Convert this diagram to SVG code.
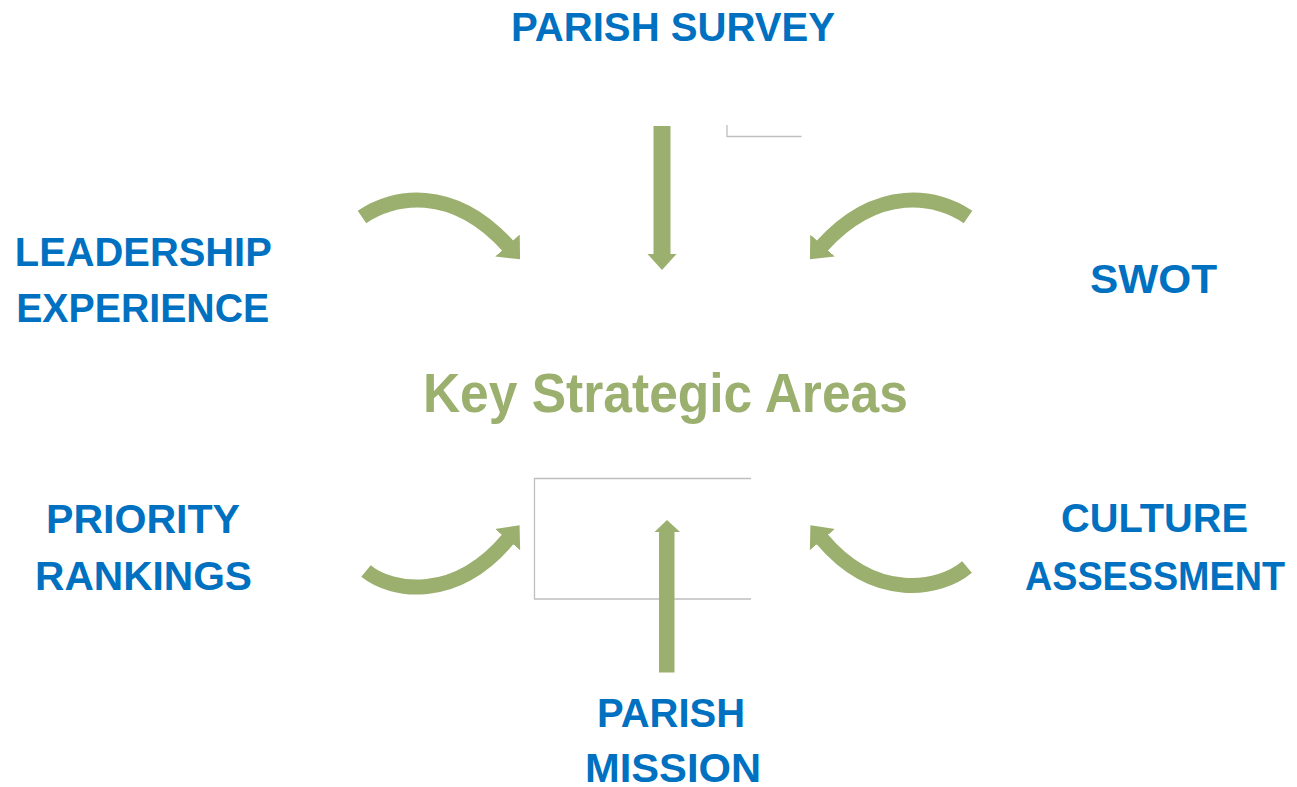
<svg xmlns="http://www.w3.org/2000/svg" width="1297" height="787" viewBox="0 0 1297 787">
<style>
.lbl{font-family:"Liberation Sans",Arial,sans-serif;font-weight:bold;font-size:40px;fill:#0070C0;text-anchor:middle}
.key{font-family:"Liberation Sans",Arial,sans-serif;font-weight:bold;font-size:55px;fill:#9BB06F;text-anchor:middle}
.frame{fill:none;stroke:#BFBFBF;stroke-width:1.3}
.curve{fill:none;stroke:#9BB06F;stroke-width:15;stroke-linecap:butt}
.straight{fill:#9BB06F;stroke:none}
</style>
<defs>
<marker id="head" viewBox="0 -1.15 1.3 2.3" refX="0.05" refY="0" markerWidth="1.3" markerHeight="2.3" markerUnits="strokeWidth" orient="auto">
<path d="M0,-1.1 L1.25,0 L0,1.1 Z" fill="#9BB06F"/>
</marker>
</defs>
<rect width="1297" height="787" fill="#FFFFFF"/>
<g id="frames">
<path class="frame" d="M727,125 V136.5 H801.5"/>
<path class="frame" d="M751,478.5 H534.5 V599 H751"/>
</g>
<g id="connectors">
<path class="curve" d="M362,217 C392,196 452,184 508,246" marker-end="url(#head)"/>
<path class="curve" d="M968,217 C938,196 878,184 822,246" marker-end="url(#head)"/>
<path class="curve" d="M366,571 C392,592 455,602 508,539" marker-end="url(#head)"/>
<path class="curve" d="M967,567 C940,590 875,602 822,539" marker-end="url(#head)"/>
<path class="straight" d="M653.5,126 H670.5 V254 H676.5 L662,270 L647.5,254 H653.5 Z"/>
<path class="straight" d="M659,672.5 V532 H654.5 L667,520 L680,532 H674.5 V672.5 Z"/>
</g>
<g id="node-center">
<text class="key" x="665.4" y="411.5" textLength="485" lengthAdjust="spacingAndGlyphs">Key Strategic Areas</text>
</g>
<g id="node-parish-survey">
<text class="lbl" x="673" y="41" textLength="324" lengthAdjust="spacingAndGlyphs">PARISH SURVEY</text>
</g>
<g id="node-leadership">
<text class="lbl" x="143.3" y="266" textLength="257" lengthAdjust="spacingAndGlyphs">LEADERSHIP</text>
<text class="lbl" x="142.7" y="322" textLength="253" lengthAdjust="spacingAndGlyphs">EXPERIENCE</text>
</g>
<g id="node-swot">
<text class="lbl" x="1153.5" y="293" textLength="127" lengthAdjust="spacingAndGlyphs">SWOT</text>
</g>
<g id="node-priority">
<text class="lbl" x="143" y="532.5" textLength="194" lengthAdjust="spacingAndGlyphs">PRIORITY</text>
<text class="lbl" x="143.5" y="589.5" textLength="217" lengthAdjust="spacingAndGlyphs">RANKINGS</text>
</g>
<g id="node-culture">
<text class="lbl" x="1154.5" y="532" textLength="187" lengthAdjust="spacingAndGlyphs">CULTURE</text>
<text class="lbl" x="1155" y="590" textLength="260" lengthAdjust="spacingAndGlyphs">ASSESSMENT</text>
</g>
<g id="node-mission">
<text class="lbl" x="671" y="727" textLength="148" lengthAdjust="spacingAndGlyphs">PARISH</text>
<text class="lbl" x="673" y="782" textLength="176" lengthAdjust="spacingAndGlyphs">MISSION</text>
</g>
</svg>
